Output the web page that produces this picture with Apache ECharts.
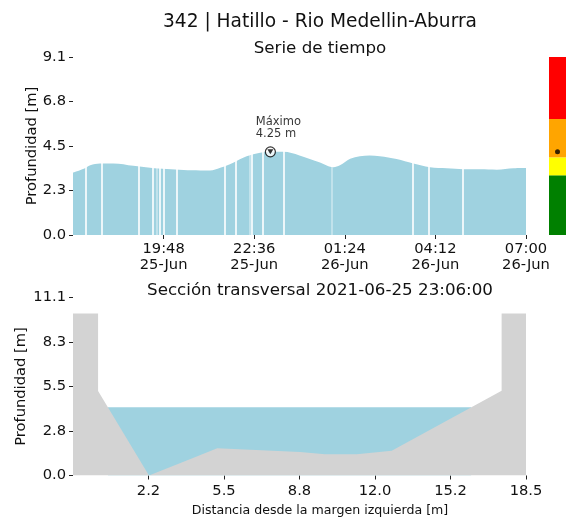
<!DOCTYPE html>
<html>
<head>
<meta charset="utf-8">
<script src="https://cdn.jsdelivr.net/npm/echarts@6/dist/echarts.min.js"></script>
<style>html,body{margin:0;padding:0;background:#fff}#c{width:566px;height:519px}</style>
</head>
<body>
<div id="c"></div>
<script>
// ---------- data ----------
const stationTitle = '342 | Hatillo - Rio Medellin-Aburra';
const startTime = '17:00';
const seriesTimes = ['17:00','17:20','17:32','17:50','18:15','18:52','19:23','19:54','20:25','20:56','21:14','21:33','21:57','22:22','22:47','23:06','23:30','00:00','00:38','01:03','01:15','01:34','01:52','02:10','02:29','03:00','03:31','04:02','04:33','05:04','05:35','06:06','06:37','07:00'];
const seriesDepth = [3.19,3.39,3.57,3.66,3.66,3.54,3.44,3.37,3.32,3.30,3.30,3.44,3.70,4.02,4.20,4.25,4.25,4.07,3.71,3.47,3.57,3.90,4.03,4.07,4.03,3.88,3.65,3.46,3.41,3.36,3.36,3.34,3.41,3.42];
const gapTimes = ['17:23','17:53','19:02','19:28','19:35','19:40','19:48','20:12','21:42','22:01','22:28','22:32','22:51','23:30','00:59','03:30','03:59','05:03'];
const gapFaint = ['19:35','22:28','00:59'];
const maxTimestamp = '2021-06-25 23:06:00';

const timeTickValues = ['19:48','22:36','01:24','04:12','07:00'];
const timeTickLabels = ['19:48\n25-Jun','22:36\n25-Jun','01:24\n26-Jun','04:12\n26-Jun','07:00\n26-Jun'];
const depthTicks = [0, 2.275, 4.55, 6.825, 9.1];
const depthTickLabels = ['0.0','2.3','4.5','6.8','9.1'];

// alert levels (upper bound of each band)
const levelColors = ['#008000','#ffff00','#ffa500','#ff0000'];
const levelTops = [3.05, 3.97, 5.93, 9.1];

// cross-section
const sectionX = [-1.0, 0.08, 0.08, 2.27, 3.68, 5.21, 8.77, 9.85, 11.21, 12.72, 17.45, 17.45, 18.5];
const sectionY = [10.1, 10.1, 5.27, 0.0, 0.81, 1.70, 1.46, 1.33, 1.33, 1.54, 5.29, 10.1, 10.1];
const distTicks = [2.25, 5.5, 8.75, 12.0, 15.25, 18.5];
const distTickLabels = ['2.2','5.5','8.8','12.0','15.2','18.5'];
const secDepthTicks = [0, 2.775, 5.55, 8.325, 11.1];
const secDepthTickLabels = ['0.0','2.8','5.5','8.3','11.1'];

// ---------- helpers ----------
function toMin(t){
  const p = t.split(':').map(Number), s = startTime.split(':').map(Number);
  let m = p[0]*60 + p[1] - (s[0]*60 + s[1]);
  if (m < 0) m += 1440;
  return m;
}
function lookup(v, ticks, labels){
  let best = 0, bd = Infinity;
  ticks.forEach((t,i)=>{ const d = Math.abs(t - v); if (d < bd){bd = d; best = i;} });
  return bd < 1e-3 ? labels[best] : '';
}
const FONT = 'DejaVu Sans';
const TXT = '#111';
const BLUE = '#9fd2e0';
const GRAY = '#d3d3d3';

const seriesData = seriesTimes.map((t,i)=>[toMin(t), seriesDepth[i]]);
let maxIdx = 0; seriesDepth.forEach((v,i)=>{ if (v > seriesDepth[maxIdx]) maxIdx = i; });
const maxVal = seriesDepth[maxIdx];
const maxMin = toMin(seriesTimes[maxIdx]);
const timeTickMins = timeTickValues.map(toMin);

// water extent: where the section crosses the water level
const crossings = [];
for (let i = 0; i < sectionX.length - 1; i++){
  const a = sectionY[i] - maxVal, b = sectionY[i+1] - maxVal;
  if (a * b < 0){
    const f = a / (a - b);
    crossings.push(sectionX[i] + f * (sectionX[i+1] - sectionX[i]));
  }
}
const waterData = [[crossings[0], maxVal], [crossings[crossings.length-1], maxVal]];
const sectionData = sectionX.map((x,i)=>[x, sectionY[i]]);

const tickStyle = {show:true, inside:false, length:4, lineStyle:{color:'#222', width:1}};
const labelBase = {color:TXT, fontFamily:FONT, fontSize:14.7};
const noLine = {show:false, onZero:false};
const TCX = 315;

const chart = echarts.init(document.getElementById('c'), null, {renderer:'canvas'});
chart.setOption({
  animation:false,
  backgroundColor:'#fff',
  title:[
    {text:stationTitle, left:TCX, top:8, textAlign:'center', textStyle:{fontFamily:FONT, fontSize:18.6, fontWeight:'normal', color:TXT}},
    {text:'Serie de tiempo', left:TCX, top:35, textAlign:'center', textStyle:{fontFamily:FONT, fontSize:16.7, fontWeight:'normal', color:TXT}},
    {text:'Sección transversal ' + maxTimestamp, left:TCX, top:277, textAlign:'center', textStyle:{fontFamily:FONT, fontSize:16.7, fontWeight:'normal', color:TXT}},
    {text:'Distancia desde la margen izquierda [m]', left:TCX, top:499, textAlign:'center', textStyle:{fontFamily:FONT, fontSize:12.6, fontWeight:'normal', color:TXT}}
  ],
  grid:[
    {left:73, width:453, top:57, height:178},
    {left:549, width:20, top:57, height:178},
    {left:73, width:453, top:297.5, height:178}
  ],
  xAxis:[
    {gridIndex:0, type:'value', min:0, max:toMin('07:00'),
      axisLine:noLine, splitLine:{show:false},
      axisTick:Object.assign({customValues:timeTickMins}, tickStyle),
      axisLabel:Object.assign({customValues:timeTickMins, margin:6, lineHeight:16,
        formatter:v=>lookup(v, timeTickMins, timeTickLabels)}, labelBase)},
    {gridIndex:1, type:'category', data:['nivel'], show:false},
    {gridIndex:2, type:'value', min:-1, max:18.5,
      axisLine:noLine, splitLine:{show:false},
      axisTick:Object.assign({customValues:distTicks}, tickStyle),
      axisLabel:Object.assign({customValues:distTicks, margin:8,
        formatter:v=>lookup(v, distTicks, distTickLabels)}, labelBase)}
  ],
  yAxis:[
    {gridIndex:0, type:'value', min:0, max:9.1,
      name:'Profundidad [m]', nameLocation:'middle', nameGap:33, nameRotate:90, nameMoveOverlap:false,
      nameTextStyle:{fontFamily:FONT, fontSize:14.7, color:TXT},
      axisLine:noLine, splitLine:{show:false},
      axisTick:Object.assign({customValues:depthTicks}, tickStyle),
      axisLabel:Object.assign({customValues:depthTicks, margin:7,
        formatter:v=>lookup(v, depthTicks, depthTickLabels)}, labelBase)},
    {gridIndex:1, type:'value', min:0, max:9.1, show:false},
    {gridIndex:2, type:'value', min:0, max:11.1,
      name:'Profundidad [m]', nameLocation:'middle', nameGap:44, nameRotate:90, nameMoveOverlap:false,
      nameTextStyle:{fontFamily:FONT, fontSize:14.7, color:TXT},
      axisLine:noLine, splitLine:{show:false},
      axisTick:Object.assign({customValues:secDepthTicks}, tickStyle),
      axisLabel:Object.assign({customValues:secDepthTicks, margin:7,
        formatter:v=>lookup(v, secDepthTicks, secDepthTickLabels)}, labelBase)}
  ],
  series:[
    {type:'line', xAxisIndex:0, yAxisIndex:0, data:seriesData, smooth:0.35,
      symbol:'none', lineStyle:{width:0, color:BLUE}, areaStyle:{color:BLUE, opacity:1}, z:2,
      markLine:{silent:true, symbol:'none', label:{show:false}, z:3,
        data:gapTimes.map(t=>({xAxis:toMin(t), lineStyle:{color:'#fff', width:1.6, type:'solid', opacity:gapFaint.includes(t)?0.45:1}}))}},
    {type:'scatter', xAxisIndex:0, yAxisIndex:0, data:[[maxMin, maxVal]], symbol:'circle', symbolSize:10,
      itemStyle:{color:'#fff', borderColor:'#000', borderWidth:1.2}, z:10,
      label:{show:true, formatter:'Máximo\n' + maxVal.toFixed(2) + ' m', position:[-9,-31], align:'left', verticalAlign:'top',
        fontFamily:FONT, fontSize:11.5, lineHeight:12.5, color:'#000'}},
    {type:'scatter', xAxisIndex:0, yAxisIndex:0, data:[[maxMin, maxVal]], symbol:'triangle', symbolRotate:180, symbolSize:[6,5],
      itemStyle:{color:'#000'}, z:11},
    ...levelTops.map((top,i)=>({type:'bar', xAxisIndex:1, yAxisIndex:1, stack:'lv', barWidth:'100%',
      data:[top - (i ? levelTops[i-1] : 0)], itemStyle:{color:levelColors[i]}, z:2})),
    {type:'scatter', xAxisIndex:1, yAxisIndex:1, data:[[0, maxVal]], symbolSize:5, itemStyle:{color:'#000'}, z:5},
    {type:'line', xAxisIndex:2, yAxisIndex:2, data:waterData, symbol:'none',
      lineStyle:{width:0}, areaStyle:{color:BLUE, opacity:1}, z:2},
    {type:'line', xAxisIndex:2, yAxisIndex:2, data:sectionData, symbol:'none',
      lineStyle:{width:0}, areaStyle:{color:GRAY, opacity:1}, z:3}
  ]
});
</script>
</body>
</html>
